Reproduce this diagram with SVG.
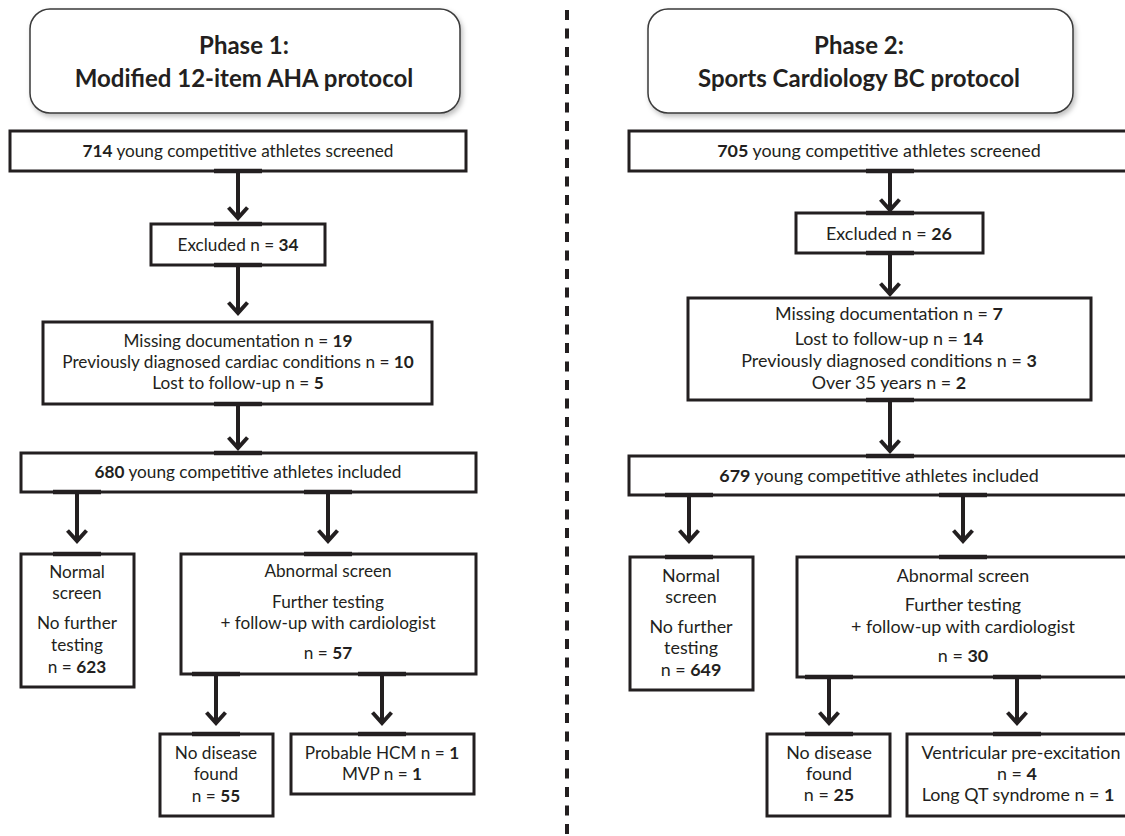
<svg xmlns="http://www.w3.org/2000/svg" width="1125" height="836" viewBox="0 0 1125 836">
<style>
.box{fill:#fff;stroke:#231f20;stroke-width:3}
.hdr{fill:#fff;stroke:#3a3a3a;stroke-width:1.5}
.t{font-family:Lato,"Liberation Sans",sans-serif;font-size:17.2px;fill:#231f20;text-anchor:middle}
.r .t{font-size:17.9px}
.h{font-family:Lato,"Liberation Sans",sans-serif;font-size:24px;font-weight:bold;fill:#231f20;text-anchor:middle}
.b{font-weight:bold}
.arr{fill:none;stroke:#231f20;stroke-width:4;marker-end:url(#ah)}
.pad{stroke:#231f20;stroke-width:4.5;fill:none}
.div{stroke:#231f20;stroke-width:4;stroke-dasharray:10 8.5}
</style>
<defs>
<filter id="sh" x="-5%" y="-10%" width="112%" height="125%">
<feDropShadow dx="2" dy="3" stdDeviation="2.5" flood-color="#000" flood-opacity="0.25"/>
</filter>
<marker id="ah" markerUnits="userSpaceOnUse" viewBox="-16 -14 20 28" refX="0" refY="0" markerWidth="20" markerHeight="28" orient="auto">
<path d="M-10.5,-9.5 L0,0 L-10.5,9.5" fill="none" stroke="#231f20" stroke-width="4" stroke-linejoin="miter"/>
</marker>
</defs>
<rect width="1125" height="836" fill="#fff"/>
<line class="div" x1="567" y1="10" x2="567" y2="836"/>

<g id="phase1">
<rect class="hdr" x="30" y="9" width="430" height="104" rx="20" filter="url(#sh)"/>
<text class="h" x="244" y="54">Phase 1:</text>
<text class="h" x="244" y="87">Modified 12-item AHA protocol</text>
</g>
<g id="screened1">
<rect class="box" x="10" y="131" width="456" height="40"/>
<text class="t" x="238" y="157"><tspan class="b">714</tspan> young competitive athletes screened</text>
</g>
<g id="excluded1">
<rect class="box" x="151" y="224" width="174" height="41"/>
<text class="t" x="238" y="251">Excluded n = <tspan class="b">34</tspan></text>
</g>
<g id="missing1">
<rect class="box" x="43" y="322" width="389" height="82"/>
<text class="t" x="238" y="347">Missing documentation n = <tspan class="b">19</tspan></text>
<text class="t" x="238" y="368">Previously diagnosed cardiac conditions n = <tspan class="b">10</tspan></text>
<text class="t" x="238" y="389">Lost to follow-up n = <tspan class="b">5</tspan></text>
</g>
<g id="included1">
<rect class="box" x="21" y="453" width="455" height="39"/>
<text class="t" x="248" y="478"><tspan class="b">680</tspan> young competitive athletes included</text>
</g>
<g id="normal1">
<rect class="box" x="21" y="554" width="113" height="133"/>
<text class="t" x="77" y="578">Normal</text>
<text class="t" x="77" y="599">screen</text>
<text class="t" x="77" y="629">No further</text>
<text class="t" x="77" y="651">testing</text>
<text class="t" x="77" y="673">n = <tspan class="b">623</tspan></text>
</g>
<g id="abnormal1">
<rect class="box" x="181" y="554" width="295" height="120"/>
<text class="t" x="328" y="577">Abnormal screen</text>
<text class="t" x="328" y="608">Further testing</text>
<text class="t" x="328" y="629">+ follow-up with cardiologist</text>
<text class="t" x="328" y="659">n = <tspan class="b">57</tspan></text>
</g>
<g id="nodisease1">
<rect class="box" x="160" y="734" width="113" height="82"/>
<text class="t" x="216" y="759">No disease</text>
<text class="t" x="216" y="780">found</text>
<text class="t" x="216" y="802">n = <tspan class="b">55</tspan></text>
</g>
<g id="probable1">
<rect class="box" x="291" y="734" width="183" height="60"/>
<text class="t" x="382" y="759">Probable HCM n = <tspan class="b">1</tspan></text>
<text class="t" x="382" y="780">MVP n = <tspan class="b">1</tspan></text>
</g>

<g id="phase2">
<rect class="hdr" x="648" y="9" width="425" height="104" rx="20" filter="url(#sh)"/>
<text class="h" x="859" y="54">Phase 2:</text>
<text class="h" x="859" y="87">Sports Cardiology BC protocol</text>
</g>
<g id="screened2" class="r">
<rect class="box" x="629" y="131" width="500" height="40"/>
<text class="t" x="879" y="157"><tspan class="b">705</tspan> young competitive athletes screened</text>
</g>
<g id="excluded2" class="r">
<rect class="box" x="796" y="213" width="187" height="40"/>
<text class="t" x="889" y="240">Excluded n = <tspan class="b">26</tspan></text>
</g>
<g id="missing2" class="r">
<rect class="box" x="688" y="298" width="403" height="102"/>
<text class="t" x="889" y="320">Missing documentation n = <tspan class="b">7</tspan></text>
<text class="t" x="889" y="345">Lost to follow-up n = <tspan class="b">14</tspan></text>
<text class="t" x="889" y="367">Previously diagnosed conditions n = <tspan class="b">3</tspan></text>
<text class="t" x="889" y="389">Over 35 years n = <tspan class="b">2</tspan></text>
</g>
<g id="included2" class="r">
<rect class="box" x="629" y="456" width="500" height="39"/>
<text class="t" x="879" y="482"><tspan class="b">679</tspan> young competitive athletes included</text>
</g>
<g id="normal2" class="r">
<rect class="box" x="630" y="557" width="123" height="133"/>
<text class="t" x="691" y="582">Normal</text>
<text class="t" x="691" y="603">screen</text>
<text class="t" x="691" y="633">No further</text>
<text class="t" x="691" y="654">testing</text>
<text class="t" x="691" y="676">n = <tspan class="b">649</tspan></text>
</g>
<g id="abnormal2" class="r">
<rect class="box" x="797" y="557" width="332" height="120"/>
<text class="t" x="963" y="582">Abnormal screen</text>
<text class="t" x="963" y="611">Further testing</text>
<text class="t" x="963" y="633">+ follow-up with cardiologist</text>
<text class="t" x="963" y="662">n = <tspan class="b">30</tspan></text>
</g>
<g id="nodisease2" class="r">
<rect class="box" x="767" y="734" width="123" height="82"/>
<text class="t" x="829" y="759">No disease</text>
<text class="t" x="829" y="780">found</text>
<text class="t" x="829" y="801">n = <tspan class="b">25</tspan></text>
</g>
<g id="ventricular2" class="r">
<rect class="box" x="907" y="734" width="222" height="82"/>
<text class="t" x="1021" y="759">Ventricular pre-excitation</text>
<text class="t" x="1017" y="780">n = <tspan class="b">4</tspan></text>
<text class="t" x="1018" y="801">Long QT syndrome n = <tspan class="b">1</tspan></text>
</g>

<g id="connectors">
<path class="arr" d="M238 172V218"/>
<path class="arr" d="M238 266V313"/>
<path class="arr" d="M238 405V448"/>
<path class="arr" d="M77 493V541"/>
<path class="arr" d="M328 493V541"/>
<path class="arr" d="M216 675V723"/>
<path class="arr" d="M382 675V723"/>
<path class="arr" d="M890 172V210"/>
<path class="arr" d="M890 254V294"/>
<path class="arr" d="M890 401V451"/>
<path class="arr" d="M689 496V541"/>
<path class="arr" d="M963 496V541"/>
<path class="arr" d="M829 678V723"/>
<path class="arr" d="M1017 678V723"/>
<path class="pad" d="M214 171H262M214 224H262M214 265H262M214 404H262M214 453H262M53 492H101M304 492H352M53 554H101M304 554H352M192 674H240M358 674H406M192 734H240M358 734H406"/>
<path class="pad" d="M866 171H914M866 213H914M866 253H914M866 400H914M866 456H914M665 495H713M939 495H987M665 557H713M939 557H987M805 677H853M993 677H1041M805 734H853M993 734H1041"/>
</g>
</svg>
